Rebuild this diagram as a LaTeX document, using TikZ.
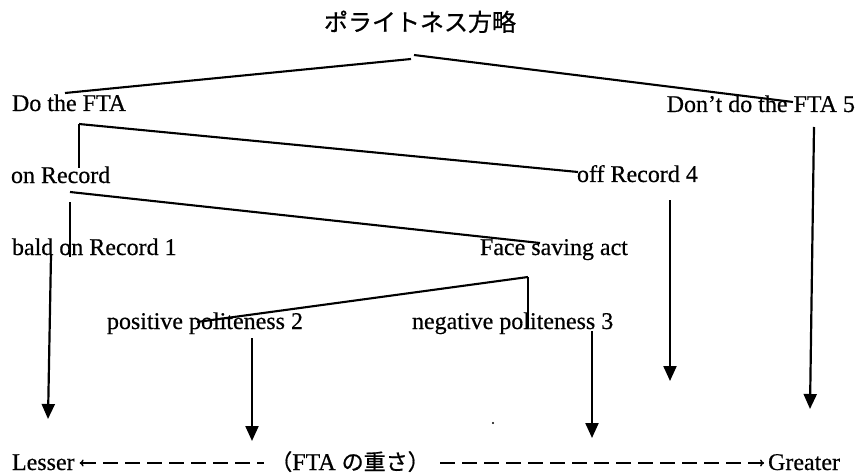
\documentclass[tikz,border=0pt]{standalone}
\usepackage{fontspec}
\setmainfont{Liberation Serif}[FakeBold=0.5]
\newfontfamily\jp{Noto Sans CJK JP}[FakeBold=0.8]
\usetikzlibrary{arrows.meta,calc}
\begin{document}
\begin{tikzpicture}[x=1pt,y=-1pt,
  lbl/.style={inner sep=0pt, outer sep=0pt, font=\fontsize{24}{28}\selectfont},
  jlbl/.style={inner sep=0pt, outer sep=0pt, font=\jp\fontsize{24}{28}\selectfont},
  branch/.style={line width=2.1pt},
  stem/.style={line width=1.5pt},
  down/.style={line width=2.2pt, -{Triangle[width=13pt,length=15pt]}},
  scaleline/.style={line width=1.5pt, dash pattern=on 15pt off 7pt},
  scaletip/.style={{To[length=4pt,width=7pt]}-},
]
\useasboundingbox (0,0) rectangle (857,476);

% labels
\node[jlbl, anchor=base] (title) at (420,31) {ポライトネス方略};
\node[lbl, anchor=base west] (dofta) at (12,111) {Do the FTA};
\node[lbl, anchor=base east] (dontfta) at (855,112) {Don’t do the FTA 5};
\node[lbl, anchor=base west] (onrec) at (11,183) {on Record};
\node[lbl, anchor=base west] (offrec) at (577,182) {off Record 4};
\node[lbl, anchor=base west] (bald) at (12,255) {bald on Record 1};
\node[lbl, anchor=base west] (face) at (480,255) {Face saving act};
\node[lbl, anchor=base west] (pos) at (107,329) {positive politeness 2};
\node[lbl, anchor=base west] (neg) at (412,329) {negative politeness 3};
\node[lbl, anchor=base west] (lesser) at (12,470) {Lesser};
\node[lbl, anchor=base] (weight) at (350,470) {{\jp\fontsize{22}{26}\selectfont （}FTA\ {\jp\fontsize{22}{26}\selectfont の重さ）}};
\node[lbl, anchor=base east] (greater) at (840,470) {Greater};

% tree junction points
\coordinate (t1) at (411,59);
\coordinate (t2) at (414,55);
\coordinate (a1) at (65,93);
\coordinate (a2) at (793,102);
\coordinate (d0) at (79,124);
\coordinate (d1) at (79,168);
\coordinate (d2) at (578,172);
\coordinate (r0) at (70,192);
\coordinate (r1) at (540,243);
\coordinate (r2) at (70,202);
\coordinate (r3) at (70,257);
\coordinate (f0) at (528,277);
\coordinate (f1) at (197,322);
\coordinate (f2) at (528,328);

% arrow ends
\coordinate (ba0) at (51,255);  \coordinate (ba1) at (48,419);
\coordinate (pa0) at (252,338); \coordinate (pa1) at (252,441);
\coordinate (na0) at (592,331); \coordinate (na1) at (592,438);
\coordinate (oa0) at (670,200); \coordinate (oa1) at (670,381);
\coordinate (da0) at (814,127); \coordinate (da1) at (810,409);

% tree
\draw[branch] (t1) -- (a1);
\draw[branch] (t2) -- (a2);
\draw[branch] (d0) -- (d2);
\draw[stem] (d0) -- (d1);
\draw[branch] (r0) -- (r1);
\draw[stem] (r2) -- (r3);
\draw[branch] (f0) -- (f1);
\draw[stem] (f0) -- (f2);

% downward arrows
\draw[down] (ba0) -- (ba1);
\draw[down] (pa0) -- (pa1);
\draw[down] (na0) -- (na1);
\draw[down] (oa0) -- (oa1);
\draw[down] (da0) -- (da1);

% stray dot
\fill (493,423) circle (1.1pt);

% scale line
\draw[scaleline, scaletip] ($(lesser.base east)+(5,-7)$) -- ($(weight.base west)+(-6,-7)$);
\draw[scaleline, scaletip] ($(greater.base west)+(-4,-7)$) -- ($(weight.base east)+(6,-7)$);
\end{tikzpicture}
\end{document}
